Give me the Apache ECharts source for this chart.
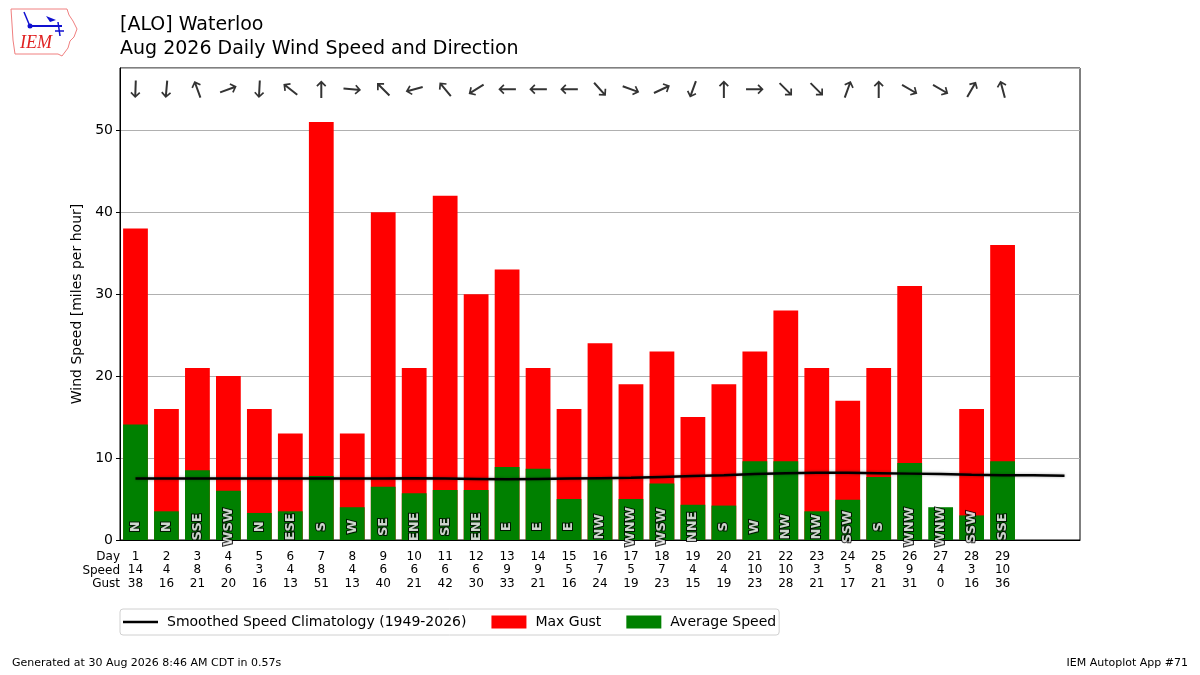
<!DOCTYPE html>
<html>
<head>
<meta charset="utf-8">
<title>[ALO] Waterloo Daily Wind</title>
<script src="https://cdn.jsdelivr.net/npm/echarts@6/dist/echarts.min.js"></script>
<style>
  html, body { margin: 0; padding: 0; background: #fff; }
  #main { width: 1200px; height: 675px; }
</style>
</head>
<body>
<div id="main"></div>
<script>
// days of the month shown on the x axis
const days = Array.from({ length: 31 }, (_, i) => String(i + 1))

// daily values (29 days reported)
const avgSpeed = [14.1, 3.5, 8.5, 6.0, 3.3, 3.5, 7.8, 4.0, 6.5, 5.7, 6.1, 6.1, 8.9, 8.7, 5.0,
  7.4, 5.0, 6.9, 4.3, 4.2, 9.6, 9.6, 3.5, 4.9, 7.7, 9.4, 4.0, 3.0, 9.6]
const speedLabel = [14, 4, 8, 6, 3, 4, 8, 4, 6, 6, 6, 6, 9, 9, 5,
  7, 5, 7, 4, 4, 10, 10, 3, 5, 8, 9, 4, 3, 10]
const maxGust = [38, 16, 21, 20, 16, 13, 51, 13, 40, 21, 42, 30, 33, 21, 16,
  24, 19, 23, 15, 19, 23, 28, 21, 17, 21, 31, 0, 16, 36]
const dirText = ['N', 'N', 'SSE', 'WSW', 'N', 'ESE', 'S', 'W', 'SE', 'ENE', 'SE', 'ENE', 'E', 'E', 'E',
  'NW', 'WNW', 'WSW', 'NNE', 'S', 'W', 'NW', 'NW', 'SSW', 'S', 'WNW', 'WNW', 'SSW', 'SSE']
// average direction (degrees from north) as drawn by the arrows
const dirDeg = [2, 5, 160, 250, 3, 128, 180, 275, 135, 75, 140, 58, 90, 90, 90,
  318, 290, 245, 20, 180, 270, 315, 315, 200, 180, 300, 300, 210, 165]

// smoothed climatology of average speed, one value per day
const climo = [7.5, 7.5, 7.5, 7.5, 7.5, 7.5, 7.5, 7.5, 7.5, 7.55, 7.5, 7.45, 7.4, 7.45, 7.5,
  7.55, 7.6, 7.7, 7.8, 7.9, 8.05, 8.15, 8.2, 8.2, 8.15, 8.1, 8.05, 7.95, 7.9, 7.9, 7.85]

const arrowY = 55
const labelY = 1.6

// downward arrow = wind from the north
const arrowPath = 'path://M4,0 L6,0 L6,14.2 L8.8,11.4 L10,12.6 L5,17.6 L0,12.6 L1.2,11.4 L4,14.2 Z'
// legend icon: thin horizontal stroke inside a 35x13 box (corner dots keep the box size)
const lineIcon = 'path://M0,0 L0.01,0 Z M0,13 L0.01,13 Z M35,0 L34.99,0 Z M0,5.2 L35,5.2 L35,7.8 L0,7.8 Z'

const font = 'DejaVu Sans'

var myChart = echarts.init(document.getElementById('main'))

const option = {
  backgroundColor: '#fff',
  textStyle: { fontFamily: font },
  animation: false,
  grid: {
    left: 120, right: 120, top: 68, bottom: 135,
    show: true, borderColor: '#000', borderWidth: 1
  },
  legend: {
    left: 120, top: 609,
    orient: 'horizontal',
    data: [
      { name: 'Smoothed Speed Climatology (1949-2026)', icon: lineIcon },
      { name: 'Max Gust', icon: 'rect' },
      { name: 'Average Speed', icon: 'rect' }
    ],
    itemWidth: 35, itemHeight: 13, itemGap: 25,
    textStyle: { fontFamily: font, fontSize: 14, color: '#000', padding: [0, 0, 0, 4] },
    borderColor: '#d0d0d0', borderWidth: 1, borderRadius: 3,
    padding: [6, 3, 6, 3]
  },
  xAxis: {
    type: 'category',
    data: days,
    boundaryGap: true,
    axisLine: { lineStyle: { color: '#000' } },
    axisTick: {
      alignWithLabel: true, length: 4,
      interval: (idx) => idx < maxGust.length,
      lineStyle: { color: '#000' }
    },
    axisLabel: {
      interval: 0, margin: 10,
      fontFamily: font, fontSize: 12, color: '#000', lineHeight: 13.5,
      formatter: (val, idx) => idx < maxGust.length
        ? `${val}\n${speedLabel[idx]}\n${maxGust[idx]}` : ''
    }
  },
  yAxis: {
    type: 'value',
    min: 0, max: 57.6, interval: 10,
    name: 'Wind Speed [miles per hour]',
    nameLocation: 'middle', nameGap: 33,
    nameTextStyle: { fontFamily: font, fontSize: 14, color: '#000' },
    axisLine: { show: true, lineStyle: { color: '#000' } },
    axisTick: { show: true, length: 4, lineStyle: { color: '#000' } },
    axisLabel: { fontFamily: font, fontSize: 14, color: '#000', margin: 7, showMaxLabel: false },
    splitLine: { lineStyle: { color: '#b0b0b0', width: 1 } }
  },
  series: [
    {
      name: 'Smoothed Speed Climatology (1949-2026)',
      type: 'line',
      data: climo,
      symbol: 'none',
      z: 5,
      color: '#000',
      lineStyle: { color: '#000', width: 2.5, shadowColor: 'rgba(0,0,0,0.35)', shadowBlur: 3 }
    },
    {
      name: 'Max Gust',
      type: 'bar',
      data: maxGust,
      barWidth: '80%',
      barGap: '-100%',
      color: '#ff0000',
      itemStyle: { color: '#ff0000' }
    },
    {
      name: 'Average Speed',
      type: 'bar',
      data: avgSpeed,
      barWidth: '80%',
      barGap: '-100%',
      color: '#008000',
      itemStyle: { color: '#008000' }
    },
    {
      name: 'direction',
      type: 'scatter',
      data: dirDeg.map((d, i) => [i, arrowY, d]),
      symbol: arrowPath,
      symbolSize: [10, 17.6],
      symbolRotate: (val) => -val[2],
      itemStyle: { color: '#000' },
      z: 6
    },
    {
      name: 'dirlabel',
      type: 'scatter',
      data: dirText.map((t, i) => [i, labelY, t]),
      symbolSize: 0,
      z: 7,
      label: {
        show: true,
        position: 'inside',
        rotate: 90,
        formatter: (p) => p.value[2],
        fontFamily: font, fontSize: 13, fontWeight: 'bold',
        color: '#fff', textBorderColor: '#000', textBorderWidth: 2
      }
    }
  ],
  graphic: [
    // IEM logo, rough sketch
    {
      type: 'polygon',
      shape: { points: [[11, 9], [67, 9], [69, 15], [73, 21], [77, 29], [74, 37], [70, 41], [68, 48], [62, 56], [58, 54], [15, 54], [13, 40], [12, 24]] },
      style: { fill: '#fff', stroke: '#f08080', lineWidth: 1 }
    },
    { type: 'line', shape: { x1: 29, y1: 26, x2: 62, y2: 26 }, style: { stroke: '#1010d0', lineWidth: 2 } },
    { type: 'circle', shape: { cx: 30, cy: 26, r: 2.5 }, style: { fill: '#1010d0' } },
    { type: 'line', shape: { x1: 24, y1: 12, x2: 29, y2: 24 }, style: { stroke: '#1010d0', lineWidth: 1.5 } },
    { type: 'polygon', shape: { points: [[46, 16], [56, 20], [50, 22]] }, style: { fill: '#1010d0' } },
    { type: 'line', shape: { x1: 58, y1: 22, x2: 60, y2: 36 }, style: { stroke: '#1010d0', lineWidth: 1.5 } },
    { type: 'line', shape: { x1: 55, y1: 31, x2: 64, y2: 31 }, style: { stroke: '#1010d0', lineWidth: 1.5 } },
    {
      type: 'text', left: 20, top: 34,
      style: { text: 'IEM', fill: '#e02020', font: 'italic 18px "Liberation Serif"' }
    },
    // titles
    {
      type: 'text', left: 120, top: 16,
      style: { text: '[ALO] Waterloo', fill: '#000', font: '19px "DejaVu Sans"' }
    },
    {
      type: 'text', left: 120, top: 40,
      style: { text: 'Aug 2026 Daily Wind Speed and Direction', fill: '#000', font: '19px "DejaVu Sans"' }
    },
    // row labels under the x axis
    {
      type: 'text', right: 1200 - 120, top: 551,
      style: { text: 'Day', fill: '#000', font: '12px "DejaVu Sans"', align: 'right' }
    },
    {
      type: 'text', right: 1200 - 120, top: 564.5,
      style: { text: 'Speed', fill: '#000', font: '12px "DejaVu Sans"', align: 'right' }
    },
    {
      type: 'text', right: 1200 - 120, top: 578,
      style: { text: 'Gust', fill: '#000', font: '12px "DejaVu Sans"', align: 'right' }
    },
    // footer
    {
      type: 'text', left: 12, top: 658,
      style: { text: 'Generated at 30 Aug 2026 8:46 AM CDT in 0.57s', fill: '#000', font: '11px "DejaVu Sans"' }
    },
    {
      type: 'text', right: 12, top: 658,
      style: { text: 'IEM Autoplot App #71', fill: '#000', font: '11px "DejaVu Sans"' }
    }
  ]
}

myChart.setOption(option)
</script>
</body>
</html>
